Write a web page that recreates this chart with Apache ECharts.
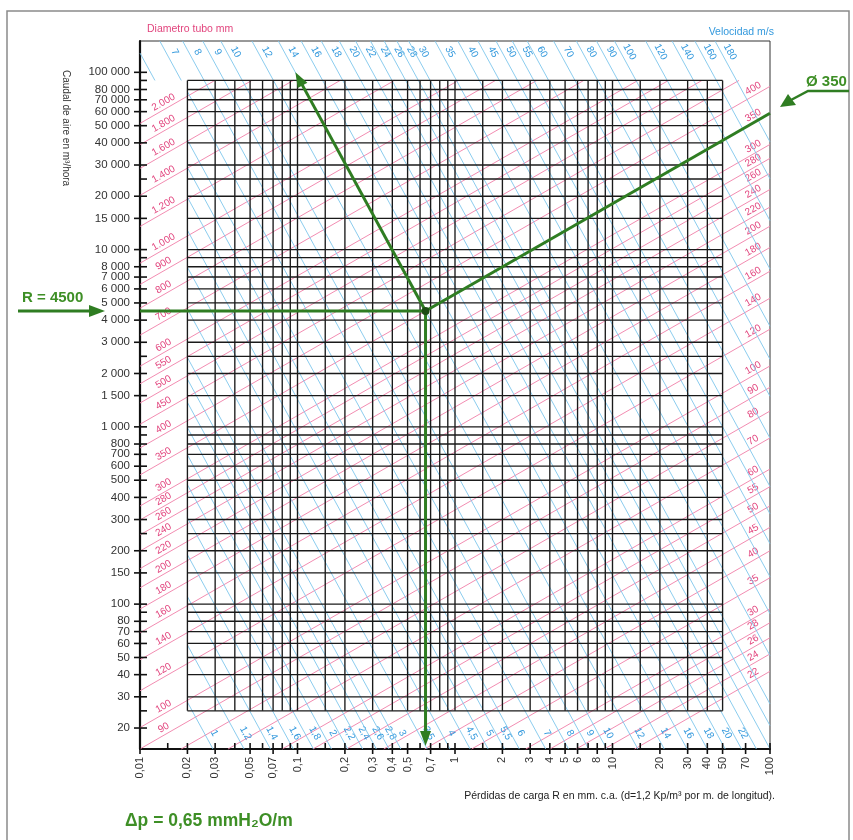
<!DOCTYPE html>
<html><head><meta charset="utf-8">
<script src="https://cdn.jsdelivr.net/npm/echarts@6/dist/echarts.min.js"></script>
<style>html,body{margin:0;padding:0;background:#fff}#c{width:853px;height:840px}</style>
</head><body><div id="c"></div>
<script>
// ---------------- DATA ----------------
// Axis tick values and labels
const xLabelValues = [0.01,0.02,0.03,0.05,0.07,0.1,0.2,0.3,0.4,0.5,0.7,1,2,3,4,5,6,8,10,20,30,40,50,70,100];
const xLabelTexts  = ['0,01','0,02','0,03','0,05','0,07','0,1','0,2','0,3','0,4','0,5','0,7','1','2','3','4','5','6','8','10','20','30','40','50','70','100'];
const xMinorTicks  = [0.015,0.04,0.06,0.08,0.09,0.15,0.6,0.8,0.9,1.5,7,9,15];
const xGridValues  = [0.02,0.03,0.04,0.05,0.06,0.07,0.08,0.09,0.1,0.15,0.2,0.3,0.4,0.5,0.6,0.7,0.8,0.9,1,1.5,2,3,4,5,6,7,8,9,10,15,20,30,40,50];

const yLabelValues = [100000,80000,70000,60000,50000,40000,30000,20000,15000,10000,8000,7000,6000,5000,4000,3000,2000,1500,1000,800,700,600,500,400,300,200,150,100,80,70,60,50,40,30,20];
const yLabelTexts  = ['100 000','80 000','70 000','60 000','50 000','40 000','30 000','20 000','15 000','10 000','8 000','7 000','6 000','5 000','4 000','3 000','2 000','1 500','1 000','800','700','600','500','400','300','200','150','100','80','70','60','50','40','30','20'];
const yMinorTicks  = [90000,25000,9000,2500,900,250,90,25];
const yGridValues  = [90000,80000,70000,60000,50000,40000,30000,25000,20000,15000,10000,9000,8000,7000,6000,5000,4000,3000,2500,2000,1500,1000,900,800,700,600,500,400,300,250,200,150,100,90,80,70,60,50,40,30,25];

// Duct diameter lines (mm): air flow (m3/h) read where each line crosses R = 1 mm/m
const diameters      = [22,24,26,28,30,35,40,45,50,55,60,70,80,90,100,120,140,160,180,200,220,240,260,280,300,350,400,450,500,550,600,700,800,900,1000,1200,1400,1600,1800,2000];
const diamLabels     = ['22','24','26','28','30','35','40','45','50','55','60','70','80','90','100','120','140','160','180','200','220','240','260','280','300','350','400','450','500','550','600','700','800','900','1.000','1.200','1.400','1.600','1.800','2.000'];
const diamFlowAtR1   = [3.99,5.0,6.17,7.5,8.98,13.45,19.1,25.9,34.2,43.9,55.2,82.7,117.3,159.6,210.7,339.6,508,721,982,1294,1660,2086,2574,3125,3744,5607,7958,10830,14270,18320,23010,34450,48900,66550,87740,141400,211800,300600,409200,539400];
const diamSlope      = 0.51;   // d(logQ)/d(logR) along a diameter line

// Velocity lines (m/s): pressure loss R (mm/m) read where each line crosses Q = 1000 m3/h
const velocities     = [1,1.2,1.4,1.6,1.8,2,2.2,2.4,2.6,2.8,3,3.5,4,4.5,5,5.5,6,7,8,9,10,12,14,16,18,20,22,24,26,28,30,35,40,45,50,55,60,70,80,90,100,120,140,160,180];
const velLossAtQ1000 = [0.00223,0.003516,0.00517,0.00722,0.00969,0.01261,0.0160,0.01989,0.0243,0.02925,0.03475,0.0511,0.07134,0.09577,0.1246,0.1581,0.1966,0.289,0.4036,0.5417,0.705,1.112,1.635,2.283,3.064,3.988,5.061,6.291,7.684,9.248,10.99,16.16,22.56,30.28,39.41,50.01,62.16,91.39,127.6,171.3,222.9,351.7,517,721.9,969.1];
const velSlope       = -1.63;  // d(logQ)/d(logR) along a velocity line

// Worked example
const exampleLoss = 0.65, exampleFlow = 4500, exampleDiam = 350, exampleVel = 14, exampleVelEndFlow = 100000;

// ---------------- CHART ----------------
const X_MIN = 0.01, X_MAX = 100, Y_MIN = 15.23, Y_MAX = 150200;
const GX0 = 0.02, GX1 = 50, GY0 = 25, GY1 = 90000;
const L = Math.log10;
const FONT = '"Liberation Sans", Arial, sans-serif';
const PINK_LINE = '#f07fa8', PINK_TXT = '#e2457e', BLUE_LINE = '#7ec6ec', BLUE_TXT = '#3399dd';
const GREEN = '#2f7d22';

function clipSeg(a, m, r0, r1, q0, q1) {
  let lo, hi;
  if (m > 0) { lo = Math.max(r0, (q0 - a) / m); hi = Math.min(r1, (q1 - a) / m); }
  else { lo = Math.max(r0, (q1 - a) / m); hi = Math.min(r1, (q0 - a) / m); }
  return lo < hi ? [lo, hi] : null;
}
function txt(x, y, text, rot, fill, size, align, valign, weight) {
  return { type: 'text', x: x, y: y, rotation: rot || 0, silent: true,
    style: { text: text, x: 0, y: 0, fill: fill, font: (weight || 'normal') + ' ' + size + 'px ' + FONT,
      align: align, verticalAlign: valign, textAlign: align, textVerticalAlign: valign } };
}
function seg(p1, p2, stroke, w) {
  return { type: 'line', silent: true, shape: { x1: p1[0], y1: p1[1], x2: p2[0], y2: p2[1] }, style: { stroke: stroke, lineWidth: w } };
}
function arrowHead(tip, from, len, half, fill) {
  const dx = tip[0] - from[0], dy = tip[1] - from[1], d = Math.hypot(dx, dy), ux = dx / d, uy = dy / d;
  const bx = tip[0] - ux * len, by = tip[1] - uy * len;
  return { type: 'polygon', silent: true, shape: { points: [[tip[0], tip[1]], [bx - uy * half, by + ux * half], [bx + uy * half, by - ux * half]] }, style: { fill: fill } };
}

const diamSeries = {
  type: 'custom', clip: false, silent: true, z: 2,
  data: diameters.map((d, i) => [1, diamFlowAtR1[i]]),
  renderItem: function (params, api) {
    const i = params.dataIndex, a = L(diamFlowAtR1[i]), m = diamSlope;
    const s = clipSeg(a, m, L(X_MIN), L(X_MAX), L(Y_MIN), L(GY1));
    if (!s) return;
    const p1 = api.coord([10 ** s[0], 10 ** (a + m * s[0])]);
    const p2 = api.coord([10 ** s[1], 10 ** (a + m * s[1])]);
    const ang = Math.atan2(p1[1] - p2[1], p2[0] - p1[0]);
    const ch = [seg(p1, p2, PINK_LINE, 0.9)];
    [0.0148, 82].forEach(function (R) {
      const Q = 10 ** (a + m * L(R));
      if (Q >= Y_MIN && Q <= GY1) {
        const p = api.coord([R, Q]);
        ch.push(txt(p[0] - Math.sin(ang) * 1.5, p[1] - Math.cos(ang) * 1.5, diamLabels[i], ang, PINK_TXT, 10, 'center', 'bottom'));
      }
    });
    return { type: 'group', children: ch };
  }
};

const velSeries = {
  type: 'custom', clip: false, silent: true, z: 3,
  data: velocities.map((v, i) => [velLossAtQ1000[i], 1000]),
  renderItem: function (params, api) {
    const i = params.dataIndex, m = velSlope, a = 3 - m * L(velLossAtQ1000[i]);
    const ch = [];
    let ang = null;
    [[L(GX0), L(X_MAX), L(Y_MIN), L(Y_MAX)], [L(X_MIN), L(GX0), L(GY1), L(Y_MAX)]].forEach(function (b) {
      const s = clipSeg(a, m, b[0], b[1], b[2], b[3]);
      if (!s) return;
      const p1 = api.coord([10 ** s[0], 10 ** (a + m * s[0])]);
      const p2 = api.coord([10 ** s[1], 10 ** (a + m * s[1])]);
      ang = Math.atan2(p1[1] - p2[1], p2[0] - p1[0]);
      ch.push(seg(p1, p2, BLUE_LINE, 0.9));
    });
    if (ang === null) return;
    const lab = String(velocities[i]).replace('.', ',');
    // top label
    const Qt = 130200, Rt = 10 ** ((L(Qt) - a) / m);
    if (Rt >= X_MIN && Rt <= X_MAX) {
      const p = api.coord([Rt, Qt]);
      ch.push(txt(p[0] + 9, p[1], lab, ang, BLUE_TXT, 10, 'center', 'middle'));
    }
    const Qb = 18.7, Rb = 10 ** ((L(Qb) - a) / m);
    if (Rb >= GX0 && Rb <= 65) {
      const p = api.coord([Rb, Qb]);
      ch.push(txt(p[0] + 10, p[1], lab, ang, BLUE_TXT, 10, 'center', 'middle'));
    }
    return { type: 'group', children: ch };
  }
};

const gridVSeries = {
  type: 'custom', clip: false, silent: true, z: 4,
  data: xGridValues.map(v => [v, GY0]),
  renderItem: function (params, api) {
    const v = xGridValues[params.dataIndex];
    return seg(api.coord([v, GY0]), api.coord([v, GY1]), '#1a1a1a', 1.35);
  }
};
const gridHSeries = {
  type: 'custom', clip: false, silent: true, z: 4,
  data: yGridValues.map(v => [GX0, v]),
  renderItem: function (params, api) {
    const v = yGridValues[params.dataIndex];
    return seg(api.coord([GX0, v]), api.coord([GX1, v]), '#1a1a1a', 1.35);
  }
};

const xTickSeries = {
  type: 'custom', clip: false, silent: true, z: 6,
  data: xLabelValues.map(v => [v, Y_MIN]).concat(xMinorTicks.map(v => [v, Y_MIN])),
  renderItem: function (params, api) {
    const i = params.dataIndex, n = xLabelValues.length;
    const v = i < n ? xLabelValues[i] : xMinorTicks[i - n];
    const p = api.coord([v, Y_MIN]);
    if (i < n) {
      return { type: 'group', children: [
        seg([p[0], p[1] - 6], [p[0], p[1] + 5], '#111', 1.6),
        txt(p[0], p[1] + 8, xLabelTexts[i], Math.PI / 2, '#333', 11, 'right', 'middle')
      ] };
    }
    return seg([p[0], p[1] - 6], [p[0], p[1]], '#111', 1.6);
  }
};
const yTickSeries = {
  type: 'custom', clip: false, silent: true, z: 6,
  data: yLabelValues.map(v => [X_MIN, v]).concat(yMinorTicks.map(v => [X_MIN, v])),
  renderItem: function (params, api) {
    const i = params.dataIndex, n = yLabelValues.length;
    const v = i < n ? yLabelValues[i] : yMinorTicks[i - n];
    const p = api.coord([X_MIN, v]);
    if (i < n) {
      return { type: 'group', children: [
        seg([p[0] - 6, p[1]], [p[0] + 7, p[1]], '#111', 1.6),
        txt(p[0] - 10, p[1], yLabelTexts[i], 0, '#333', 11.5, 'right', 'middle')
      ] };
    }
    return seg([p[0], p[1]], [p[0] + 7, p[1]], '#111', 1.6);
  }
};

const greenSeries = {
  type: 'custom', clip: false, silent: true, z: 10,
  data: [[exampleLoss, exampleFlow]],
  renderItem: function (params, api) {
    const c = api.coord([exampleLoss, exampleFlow]);
    const left = api.coord([X_MIN, exampleFlow]);
    const bot = api.coord([exampleLoss, Y_MIN]); bot[1] -= 3;
    const di = diameters.indexOf(exampleDiam);
    const dEnd = api.coord([X_MAX, diamFlowAtR1[di] * X_MAX ** diamSlope]);
    const vi = velocities.indexOf(exampleVel);
    const vA = 3 - velSlope * L(velLossAtQ1000[vi]);
    const vEnd = api.coord([10 ** ((L(exampleVelEndFlow) - vA) / velSlope), exampleVelEndFlow]);
    const vertEnd = [bot[0], bot[1] - 12];
    const dirV = [vEnd[0] - c[0], vEnd[1] - c[1]], lv = Math.hypot(dirV[0], dirV[1]);
    const vLineEnd = [vEnd[0] - dirV[0] / lv * 12, vEnd[1] - dirV[1] / lv * 12];
    return { type: 'group', children: [
      seg(left, c, GREEN, 3),
      seg(c, dEnd, GREEN, 3),
      seg(c, vertEnd, GREEN, 3),
      arrowHead(bot, c, 15, 5.5, GREEN),
      seg(c, vLineEnd, GREEN, 3),
      arrowHead(vEnd, c, 15, 5.5, GREEN),
      { type: 'circle', shape: { cx: c[0], cy: c[1], r: 4 }, style: { fill: '#1d4d14' } }
    ] };
  }
};

const chart = echarts.init(document.getElementById('c'), null, { renderer: 'canvas' });
chart.setOption({
  animation: false,
  backgroundColor: '#ffffff',
  grid: { left: 140, right: 83, top: 41, bottom: 91, show: true, borderColor: '#333', borderWidth: 1, backgroundColor: 'transparent' },
  xAxis: { type: 'log', min: X_MIN, max: X_MAX, logBase: 10,
    axisLine: { show: true, onZero: false, lineStyle: { color: '#111', width: 2.2 } },
    axisTick: { show: false }, axisLabel: { show: false }, splitLine: { show: false }, minorTick: { show: false } },
  yAxis: { type: 'log', min: Y_MIN, max: Y_MAX, logBase: 10,
    axisLine: { show: true, onZero: false, lineStyle: { color: '#111', width: 2.2 } },
    axisTick: { show: false }, axisLabel: { show: false }, splitLine: { show: false }, minorTick: { show: false } },
  series: [diamSeries, velSeries, gridVSeries, gridHSeries, xTickSeries, yTickSeries, greenSeries],
  graphic: [
    { type: 'rect', silent: true, z: -1, shape: { x: 7, y: 11, width: 842, height: 840 }, style: { fill: 'none', stroke: '#8a8a8a', lineWidth: 1.5 } },
    { type: 'text', left: 147, top: 24, style: { text: 'Diametro tubo mm', fill: PINK_TXT, font: '10.5px ' + FONT } },
    { type: 'text', right: 79, top: 27, style: { text: 'Velocidad m/s', fill: BLUE_TXT, font: '10.5px ' + FONT } },
    { type: 'text', x: 66, y: 70, rotation: -Math.PI / 2, style: { text: 'Caudal de aire en m³/hora', fill: '#333', font: '10px ' + FONT, align: 'left', verticalAlign: 'middle' } },
    { type: 'text', right: 78, top: 791, style: { text: 'Pérdidas de carga R en mm. c.a. (d=1,2 Kp/m³ por m. de longitud).', fill: '#222', font: '10.5px ' + FONT } },
    { type: 'text', left: 125, top: 812, style: { text: 'Δp = 0,65 mmH₂O/m', fill: '#3e8f26', font: 'bold 17.5px ' + FONT } },
    { type: 'text', left: 22, top: 290, style: { text: 'R = 4500', fill: '#3e8f26', font: 'bold 15px ' + FONT } },
    { type: 'line', silent: true, shape: { x1: 18, y1: 311, x2: 92, y2: 311 }, style: { stroke: GREEN, lineWidth: 3 } },
    { type: 'polygon', silent: true, shape: { points: [[105, 311], [89, 305], [89, 317]] }, style: { fill: GREEN } },
    { type: 'text', left: 806, top: 74, style: { text: 'Ø 350', fill: '#3e8f26', font: 'bold 15px ' + FONT } },
    { type: 'polyline', silent: true, shape: { points: [[849, 91], [808, 91], [791, 100]] }, style: { stroke: GREEN, lineWidth: 2.5, fill: 'none' } },
    { type: 'polygon', silent: true, shape: { points: [[780, 107], [788, 94], [796, 105]] }, style: { fill: GREEN } }
  ]
});
</script>
</body></html>
